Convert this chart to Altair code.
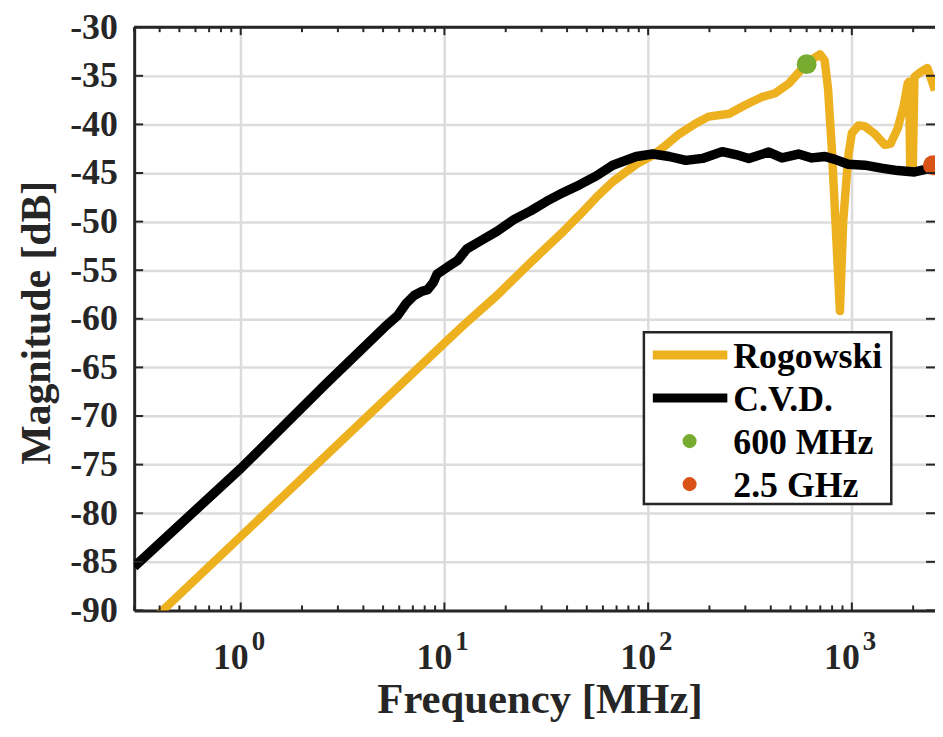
import altair as alt
import pandas as pd

# ---------------- data ----------------
cvd_f = [0.3, 1, 2.59, 5.09, 5.9, 6.5, 7.1, 7.7, 8.26, 8.8, 9.2, 10.3, 11.6, 12.9, 15,
         18.1, 21.9, 26.5, 31.8, 38.4, 46.2, 55.7, 67, 87.4, 105.4, 127, 153, 185, 231,
         269, 312, 391, 454, 547, 636, 738, 826, 960, 1157, 1396, 1682, 2028, 2270, 2560]
cvd_db = [-85.5, -75.4, -66.8, -60.85, -59.65, -58.4, -57.6, -57.2, -57.0, -56.3, -55.4,
          -54.7, -54.0, -52.8, -52.0, -51.0, -49.8, -48.9, -47.9, -47.0, -46.2, -45.3,
          -44.2, -43.3, -43.05, -43.3, -43.7, -43.5, -42.8, -43.1, -43.5, -42.85, -43.45,
          -43.05, -43.45, -43.3, -43.6, -44.1, -44.2, -44.5, -44.75, -44.9, -44.65, -44.3]

rog_f = [0.4, 1, 10, 12.5, 18.1, 26.5, 38.4, 46.2, 55.7, 67, 87.4, 105, 118, 142,
         171, 198, 250, 300, 360, 420, 490, 597, 650, 698, 735, 764, 799, 874, 907, 960,
         1000, 1080, 1160, 1300, 1450, 1550, 1680, 1800, 1880, 1910, 1935, 1990, 2030,
         2180, 2350, 2560]
rog_db = [-90.3, -82.4, -62.5, -60.6, -57.6, -54.2, -51.0, -49.3, -47.5,
          -45.9, -44.1, -43.2, -42.4, -41.0, -39.9, -39.2, -38.9, -38.0, -37.2, -36.8,
          -35.8, -33.8, -33.2, -32.8, -33.4, -36.3, -42.8, -59.2, -50.0, -43.3, -40.9,
          -40.1, -40.2, -41.0, -42.1, -42.0, -40.4, -38.0, -35.8, -35.6, -44.8, -44.8,
          -35.1, -34.6, -34.2, -36.5]

marker_labels = ["600 MHz", "2.5 GHz"]
marker_f = [600, 2500]
marker_db = [-33.8, -44.2]

legend_labels = ["Rogowski", "C.V.D.", "600 MHz", "2.5 GHz"]

y_ticks = list(range(-90, -29, 5))
x_decades = [1, 10, 100, 1000]
x_exps = ["0", "1", "2", "3"]
x_minor = [m * 10.0 ** k for k in range(-1, 4) for m in range(2, 10)
           if 0.3 <= m * 10.0 ** k <= 2560 and m * 10.0 ** k not in (1, 10, 100, 1000)]

# ---------------- style ----------------
YEL = "#EDB120"
BLK = "#000000"
GRN = "#77AC30"
RED = "#D95319"
AX = "#262626"
FONT = "Liberation Serif"
W, H = 806, 587

xs = alt.Scale(type="log", domain=[0.3, 2560], nice=False)
ys = alt.Scale(domain=[-90, -30], nice=False, zero=False)

x_axis = alt.Axis(values=x_decades, grid=True, gridColor="#dcdcdc", gridWidth=2.5,
                  labels=False, ticks=False, tickSize=0, domain=True, domainColor=AX,
                  domainWidth=3, title="Frequency [MHz]", titleFont=FONT,
                  titleFontSize=43, titleFontWeight="bold", titleColor=AX,
                  titleX=408, titleY=103, titleAlign="center", titleBaseline="alphabetic")
y_axis = alt.Axis(values=y_ticks, grid=True, gridColor="#dcdcdc", gridWidth=2.5,
                  ticks=False, tickSize=0, domain=True, domainColor=AX, domainWidth=3,
                  labelFont=FONT, labelFontSize=36, labelFontWeight="bold",
                  labelColor=AX, labelPadding=17, labelExpr="'' + datum.value",
                  title="Magnitude [dB]", titleFont=FONT, titleFontSize=42,
                  titleFontWeight="bold", titleColor=AX, titleAngle=270,
                  titleX=-85, titleY=297, titleAlign="center",
                  titleBaseline="alphabetic")


def X():
    return alt.X("f:Q", scale=xs, axis=x_axis)


def Y():
    return alt.Y("db:Q", scale=ys, axis=y_axis)


lines_rog = pd.DataFrame({"f": rog_f, "db": rog_db, "o": range(len(rog_f))})
lines_cvd = pd.DataFrame({"f": cvd_f, "db": cvd_db, "o": range(len(cvd_f))})

rog = alt.Chart(lines_rog).mark_line(
    color=YEL, strokeWidth=8.5, clip=True, strokeJoin="round").encode(
    x=X(), y=Y(), order="o:Q")
cvd = alt.Chart(lines_cvd).mark_line(
    color=BLK, strokeWidth=9.5, clip=True, strokeJoin="round").encode(
    x=X(), y=Y(), order="o:Q")

mk_df = pd.DataFrame({"label": marker_labels, "f": marker_f, "db": marker_db})
markers = alt.Chart(mk_df).mark_circle(size=400, opacity=1, clip=True).encode(
    x=X(), y=Y(),
    color=alt.Color("label:N", scale=alt.Scale(domain=marker_labels, range=[GRN, RED]),
                    legend=None))

# inward ticks
yt_df = pd.DataFrame({"db": y_ticks})
ytick_l = alt.Chart(yt_df).mark_rule(color=AX, strokeWidth=2).encode(
    y=Y(), x=alt.value(0), x2=alt.value(9))
ytick_r = alt.Chart(yt_df).mark_rule(color=AX, strokeWidth=2).encode(
    y=Y(), x=alt.value(W - 9), x2=alt.value(W))
xd_df = pd.DataFrame({"f": x_decades, "exp": x_exps})
xm_df = pd.DataFrame({"f": x_minor})
xtick_b = alt.Chart(xd_df).mark_rule(color=AX, strokeWidth=2).encode(
    x=X(), y=alt.value(H), y2=alt.value(H - 8))
xtick_t = alt.Chart(xd_df).mark_rule(color=AX, strokeWidth=2).encode(
    x=X(), y=alt.value(0), y2=alt.value(8))
xmin_b = alt.Chart(xm_df).mark_rule(color=AX, strokeWidth=2).encode(
    x=X(), y=alt.value(H), y2=alt.value(H - 5))
xmin_t = alt.Chart(xm_df).mark_rule(color=AX, strokeWidth=2).encode(
    x=X(), y=alt.value(0), y2=alt.value(5))
top_frame = alt.Chart(pd.DataFrame({"a": [0]})).mark_rule(color=AX, strokeWidth=3).encode(
    x=alt.value(0), x2=alt.value(W), y=alt.value(0))

# x tick labels 10^k
xl_base = alt.Chart(xd_df).mark_text(text="10", align="right", dx=8, baseline="alphabetic",
                                     font=FONT, fontSize=36, fontWeight="bold",
                                     color=AX).encode(
    x=X(), y=alt.value(H + 59))
xl_exp = alt.Chart(xd_df).mark_text(align="left", dx=11, baseline="alphabetic",
                                    font=FONT, fontSize=27, fontWeight="bold",
                                    color=AX).encode(
    x=X(), y=alt.value(H + 40), text="exp:N")

# legend
legend_layers = [
    alt.Chart(pd.DataFrame({"a": [0]})).mark_rect(fill="white", stroke=AX,
                                                 strokeWidth=2.5).encode(
        x=alt.value(513), x2=alt.value(762), y=alt.value(307), y2=alt.value(480))
]
leg_colors = [YEL, BLK, GRN, RED]
for i, lab in enumerate(legend_labels):
    ry = 330 + i * 43.3
    if i < 2:
        legend_layers.append(
            alt.Chart(pd.DataFrame({"a": [0]})).mark_rule(
                color=leg_colors[i], strokeWidth=9).encode(
                x=alt.value(522), x2=alt.value(597), y=alt.value(ry)))
    else:
        legend_layers.append(
            alt.Chart(pd.DataFrame({"a": [0]})).mark_circle(
                color=leg_colors[i], size=200, opacity=1).encode(
                x=alt.value(559), y=alt.value(ry)))
    legend_layers.append(
        alt.Chart(pd.DataFrame({"label": [lab]})).mark_text(
            align="left", baseline="alphabetic", font=FONT, fontSize=36,
            fontWeight="bold", color=BLK).encode(
            x=alt.value(603), y=alt.value(ry + 13), text="label:N"))

chart = alt.layer(
    rog, cvd, markers, ytick_l, ytick_r, xtick_b, xtick_t, xmin_b, xmin_t, top_frame,
    xl_base, xl_exp, *legend_layers
).properties(
    width=W, height=H,
    padding={"left": 127, "top": 17, "right": 0, "bottom": 112},
    autosize=alt.AutoSizeParams(type="none"),
    background="white",
).configure_view(stroke=None)

chart.save("out.html", embed_options={"renderer": "svg", "actions": False})
